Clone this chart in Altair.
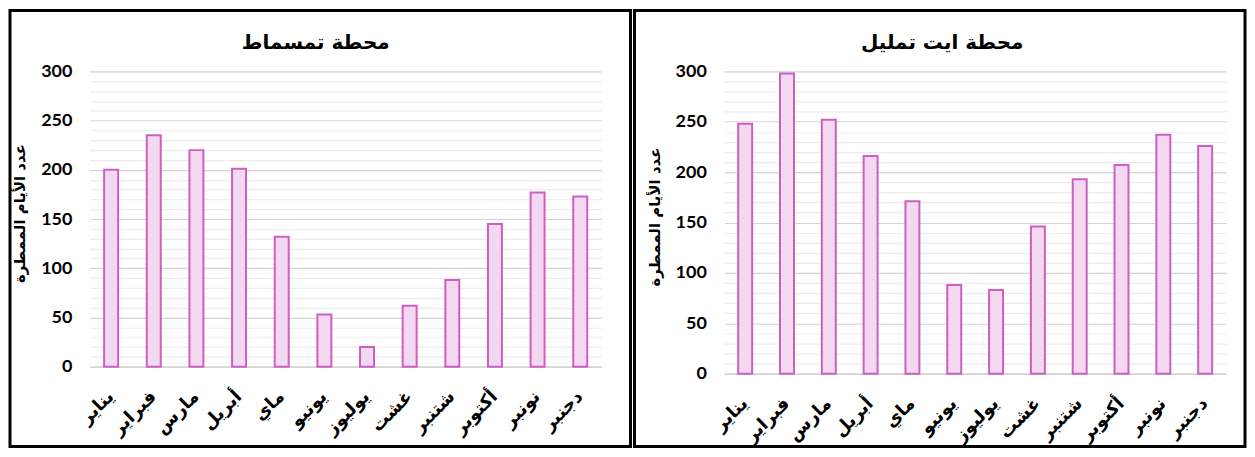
import altair as alt
import pandas as pd

months = ["يناير", "فبراير", "مارس", "أبريل", "ماي", "يونيو",
          "يوليوز", "غشت", "شتنبر", "أكتوبر", "نونبر", "دجنبر"]
tamsmat = [200, 235, 220, 201, 132, 53, 20, 62, 88, 145, 177, 173]
ait_tamlil = [248, 298, 252, 216, 171, 88, 83, 146, 193, 207, 237, 226]

title_left = "محطة تمسماط"
title_right = "محطة ايت تمليل"
y_title = "عدد الأيام الممطرة"

AR_FONT = "DejaVu Sans"
NUM_FONT = "Lato"
grid_color = {"condition": {"test": "datum.value % 50 === 0", "value": "#d4d4d4"},
              "value": "#ececec"}


def panel(values, title, width, height, title_dx, frame):
    df = pd.DataFrame({"month": months, "days": values})
    bars = alt.Chart(df).mark_bar(
        size=14, fill="#f3d8f0", stroke="#cc60c2", strokeWidth=2
    ).encode(
        x=alt.X("month:N", sort=months,
                scale=alt.Scale(paddingInner=0, paddingOuter=0),
                axis=alt.Axis(title=None, labelAngle=315, labelAlign="right",
                              labelBaseline="middle", labelPadding=27,
                              labelFont=AR_FONT, labelFontWeight="bold",
                              labelFontSize=18, labelColor="black",
                              ticks=False, domainColor="#d4d4d4", domainWidth=1.5,
                              grid=False)),
        y=alt.Y("days:Q", scale=alt.Scale(domain=[0, 300], nice=False),
                axis=alt.Axis(title=y_title, values=list(range(0, 301, 10)),
                              labelExpr="datum.value % 50 === 0 ? datum.label : ''",
                              labelFont=NUM_FONT, labelFontWeight="bold",
                              labelFontSize=18, labelColor="black",
                              labelPadding=18, ticks=False, domain=False,
                              gridColor=grid_color, gridWidth=1.2,
                              titleFont=AR_FONT, titleFontWeight="bold",
                              titleFontSize=15, titleColor="black",
                              titleAngle=270, titleX=-70, titleY=height / 2 - 6,
                              titleAlign="center", titleBaseline="middle")),
    )
    box = alt.Chart(alt.Data(values=[{}])).mark_rect(
        filled=False, stroke="black", strokeWidth=3
    ).encode(
        x=alt.value(frame[0]), x2=alt.value(frame[1]),
        y=alt.value(frame[2]), y2=alt.value(frame[3]),
    )
    return alt.layer(bars, box).properties(
        width=width, height=height,
        title=alt.TitleParams(title, font=AR_FONT, fontSize=20, fontWeight="bold",
                              color="black", dx=title_dx, offset=-44, anchor="middle"),
    )


left = panel(tamsmat, title_left, 513, 296, -30, (-80, 542, -61, 376))
right = panel(ait_tamlil, title_right, 503, 303, -33, (-90, 522, -61, 376))

chart = alt.hconcat(left, right, spacing=123, bounds="flush").resolve_scale(
    x="independent", y="independent"
).properties(padding=0, background="white").configure_view(stroke=None)

chart.save("out.html", embed_options={"renderer": "svg", "actions": False})
